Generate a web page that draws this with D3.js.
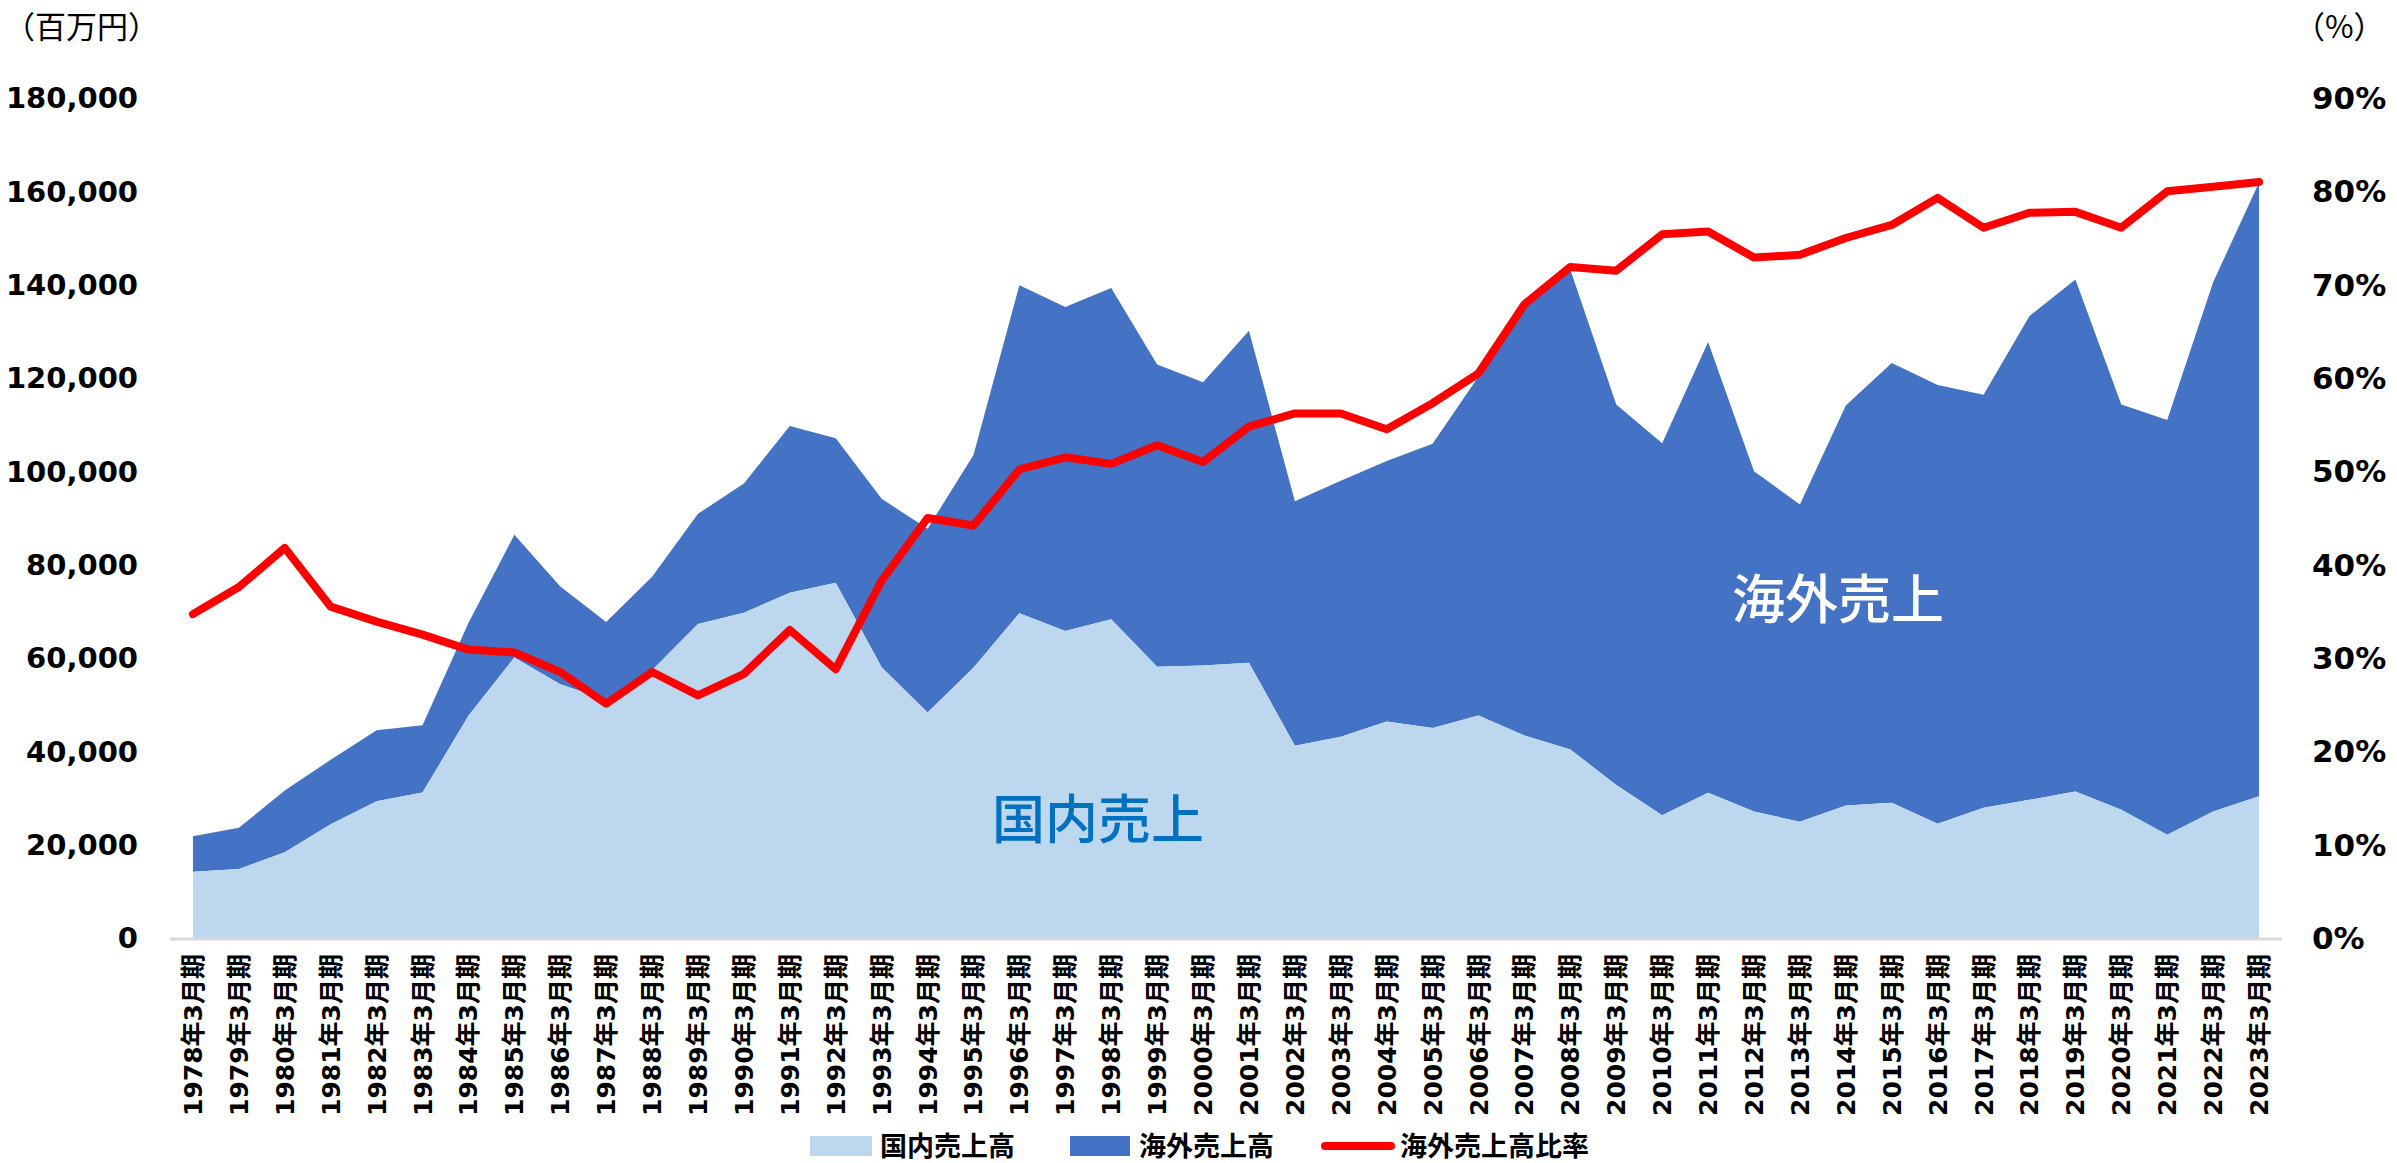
<!DOCTYPE html>
<html><head><meta charset="utf-8">
<script src="https://cdn.jsdelivr.net/npm/d3@7"></script>
<style>
html,body{margin:0;padding:0;background:#fff;}
svg{display:block;}
</style></head>
<body>
<svg id="chart" width="2397" height="1163"></svg>
<script>
const years = d3.range(1978, 2024);
const categories = years.map(y => y + "年3月期");
// 国内売上高 (百万円)
const domestic = [14200,14800,18400,24400,29300,31200,47600,60100,54400,51000,57400,67300,69700,74000,76100,58000,48300,57900,
  69600,65800,68300,58100,58400,59000,41200,43100,46400,45000,47700,43400,40400,32800,26300,31100,27100,24900,28400,29000,
  24500,27900,29600,31400,27500,22100,27100,30400];
// 国内 + 海外 = 合計 (百万円)
const total = [21800,23600,31600,38200,44500,45600,67500,86400,75300,67700,77400,90900,97400,109700,107100,94100,87700,103500,
  139900,135200,139300,122900,119100,130100,93600,98000,102200,105900,120300,136000,143200,114300,106000,127700,100000,92900,114100,123200,
  118500,116400,133300,141100,114300,111000,140500,161900];
// 海外売上高 (百万円)
const overseas = total.map((t, i) => t - domestic[i]);
// 海外売上高比率 (%)
const ratio = [34.7,37.6,41.8,35.5,33.9,32.5,30.9,30.6,28.5,25.1,28.5,26.0,28.3,33.0,28.8,38.3,45.0,44.2,
  50.2,51.5,50.8,52.8,51.0,54.8,56.2,56.2,54.5,57.3,60.5,67.9,71.9,71.5,75.4,75.7,72.9,73.2,75.0,76.4,
  79.3,76.1,77.7,77.8,76.1,80.0,80.5,81.0];
const leftTicks = [0,20000,40000,60000,80000,100000,120000,140000,160000,180000];
const rightTicks = [0,10,20,30,40,50,60,70,80,90];
const legendLabels = ["国内売上高","海外売上高","海外売上高比率"];

const svg = d3.select("#chart");
const x = d3.scalePoint().domain(categories).range([170, 2282]).padding(0.5);
const y = d3.scaleLinear().domain([0, 180000]).range([938, 98]);
const y2 = d3.scaleLinear().domain([0, 90]).range([938, 98]);

const cDom = "#BDD7EE", cOver = "#4472C4", cRed = "#FF0000";
const numFont = "'DejaVu Sans', 'Noto Sans CJK JP', sans-serif";
const jpFont = "'Noto Sans CJK JP', sans-serif";

const rows = categories.map((c, i) => ({c, d: domestic[i], o: overseas[i], r: ratio[i]}));

// Overseas (stacked on top of domestic)
svg.append("path").datum(rows)
  .attr("fill", cOver)
  .attr("d", d3.area().x(d => x(d.c)).y0(d => y(d.d)).y1(d => y(d.d + d.o)));
// Domestic
svg.append("path").datum(rows)
  .attr("fill", cDom)
  .attr("d", d3.area().x(d => x(d.c)).y0(y(0)).y1(d => y(d.d)));

// x axis line
svg.append("line").attr("x1", 170).attr("x2", 2282).attr("y1", y(0) + 1).attr("y2", y(0) + 1)
  .attr("stroke", "#D9D9D9").attr("stroke-width", 3);

// Ratio line
svg.append("path").datum(rows)
  .attr("fill", "none").attr("stroke", cRed).attr("stroke-width", 8)
  .attr("stroke-linejoin", "round").attr("stroke-linecap", "round")
  .attr("d", d3.line().x(d => x(d.c)).y(d => y2(d.r)));

// Left axis
const fmt = d3.format(",");
svg.append("g").selectAll("text").data(leftTicks).join("text")
  .attr("x", 138).attr("y", d => y(d)).attr("dy", "0.36em")
  .attr("text-anchor", "end").attr("font-family", numFont).attr("font-weight", "bold")
  .attr("font-size", 29).attr("fill", "#000").text(d => fmt(d));
// Right axis
svg.append("g").selectAll("text").data(rightTicks).join("text")
  .attr("x", 2312).attr("y", d => y2(d)).attr("dy", "0.36em")
  .attr("text-anchor", "start").attr("font-family", numFont).attr("font-weight", "bold")
  .attr("font-size", 31).attr("fill", "#000").text(d => d + "%");

// Axis unit titles
svg.append("text").attr("x", 4).attr("y", 27).attr("dy", "0.36em")
  .attr("font-family", jpFont).attr("font-size", 31).attr("fill", "#000").text("（百万円）");
svg.append("text").attr("x", 2294).attr("y", 27).attr("dy", "0.36em")
  .attr("font-family", jpFont).attr("font-size", 31).attr("fill", "#000").text("（%）");

// X labels
svg.append("g").selectAll("text").data(categories).join("text")
  .attr("transform", d => `translate(${x(d)},954) rotate(-90)`)
  .attr("dy", "0.36em").attr("text-anchor", "end")
  .attr("font-family", numFont).attr("font-weight", "bold").attr("font-size", 25)
  .attr("fill", "#000").text(d => d);

// Annotations
svg.append("text").attr("x", 992).attr("y", 820).attr("dy", "0.36em")
  .attr("font-family", jpFont).attr("font-weight", 500).attr("font-size", 53)
  .attr("fill", "#0070C0").text("国内売上");
svg.append("text").attr("x", 1732).attr("y", 600).attr("dy", "0.36em")
  .attr("font-family", jpFont).attr("font-weight", 500).attr("font-size", 53)
  .attr("fill", "#FFFFFF").text("海外売上");

// Legend
const lg = svg.append("g");
const ly = 1146;
lg.append("rect").attr("x", 810).attr("y", ly - 10).attr("width", 62).attr("height", 20).attr("fill", cDom);
lg.append("rect").attr("x", 1070).attr("y", ly - 10).attr("width", 60).attr("height", 20).attr("fill", cOver);
lg.append("line").attr("x1", 1325).attr("x2", 1391).attr("y1", ly).attr("y2", ly)
  .attr("stroke", cRed).attr("stroke-width", 8).attr("stroke-linecap", "round");
[880, 1139, 1400].forEach((lx, i) => {
  lg.append("text").attr("x", lx).attr("y", ly).attr("dy", "0.36em")
    .attr("font-family", jpFont).attr("font-weight", "bold").attr("font-size", 27)
    .attr("fill", "#000").text(legendLabels[i]);
});
</script>
</body></html>
